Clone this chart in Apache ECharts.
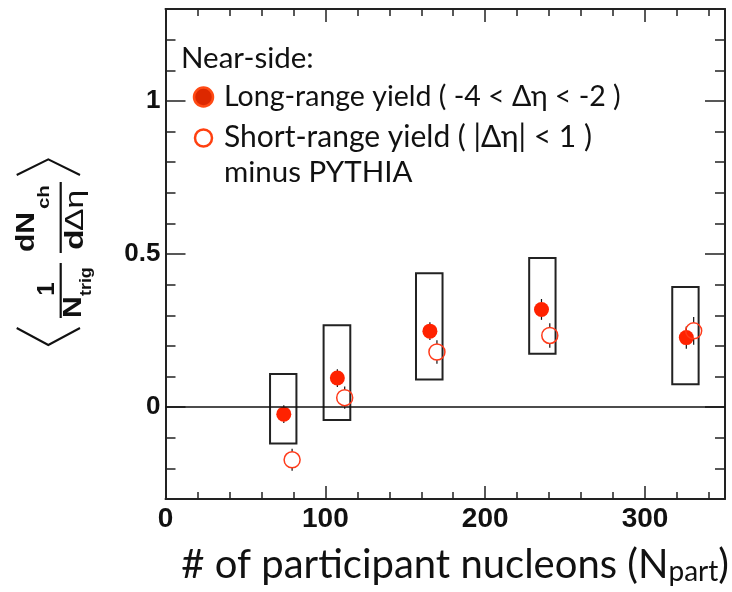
<!DOCTYPE html>
<html>
<head>
<meta charset="utf-8">
<script src="https://cdn.jsdelivr.net/npm/echarts@6/dist/echarts.min.js"></script>
<style>
html,body{margin:0;padding:0;background:#fff;}
#chart{width:732px;height:592px;}
</style>
</head>
<body>
<div id="chart"></div>
<script>
// ---- data ----
const nPartLong = [74.0, 107.5, 165.4, 235.2, 325.8];
const yieldLong = [-0.023, 0.095, 0.248, 0.319, 0.227];
const errLong = [0.029, 0.029, 0.029, 0.034, 0.036];

const nPartShort = [79.2, 112.1, 169.8, 240.4, 330.4];
const yieldShort = [-0.172, 0.031, 0.180, 0.234, 0.249];
const errShort = [0.036, 0.036, 0.038, 0.040, 0.045];

const sysLeft = [65.4, 98.9, 156.7, 227.5, 317.0];
const sysRight = [81.9, 115.6, 173.3, 244.0, 333.5];
const sysLow = [-0.119, -0.042, 0.090, 0.174, 0.075];
const sysHigh = [0.108, 0.267, 0.437, 0.487, 0.392];

const xTickLabels = [0, 100, 200, 300];
const yTickLabels = [0, 0.5, 1];
const xRange = [0, 350];
const yRange = [-0.3, 1.3];

const legendHeader = 'Near-side:';
const seriesNames = ['Long-range yield ( -4 < \u0394\u03b7 < -2 )', 'Short-range yield ( |\u0394\u03b7| < 1 )'];
const legendExtra = 'minus PYTHIA';
const xTitle = '# of participant nucleons (N';
const xTitleSub = 'part';

// ---- minor tick positions (axis decoration) ----
const xMinor = [];
for (let v = 20; v < 350; v += 20) { if (v % 100 !== 0) xMinor.push(v); }
const yMinor = [];
for (let k = -2; k <= 12; k++) { if (k % 5 !== 0) yMinor.push(k / 10); }

const frameColor = '#222';
const labelFamily = '"Liberation Sans", Arial, sans-serif';
const gillFamily = 'Lato, "Noto Sans", sans-serif';

function xAxisDef(pos, values, len, showLine, showLabel) {
  return {
    type: 'value', position: pos, min: xRange[0], max: xRange[1],
    splitLine: { show: false },
    axisLine: { show: showLine, onZero: false, lineStyle: { color: frameColor, width: 2 } },
    axisTick: { show: true, inside: true, length: len, customValues: values, lineStyle: { color: frameColor, width: 1.5 } },
    axisLabel: showLabel ? { show: true, customValues: xTickLabels, margin: 6, color: '#111',
      fontFamily: labelFamily, fontWeight: 'bold', fontSize: 28 } : { show: false }
  };
}
function yAxisDef(pos, values, len, showLine, showLabel) {
  return {
    type: 'value', position: pos, min: yRange[0], max: yRange[1],
    splitLine: { show: false },
    axisLine: { show: showLine, onZero: false, lineStyle: { color: frameColor, width: 2 } },
    axisTick: { show: true, inside: true, length: len, customValues: values, lineStyle: { color: frameColor, width: 1.5 } },
    axisLabel: showLabel ? { show: true, customValues: yTickLabels, margin: 5, color: '#111',
      fontFamily: labelFamily, fontWeight: 'bold', fontSize: 26 } : { show: false }
  };
}

const longData = nPartLong.map((x, i) => [x, yieldLong[i]]);
const shortData = nPartShort.map((x, i) => [x, yieldShort[i]]);
const longErrData = nPartLong.map((x, i) => [x, yieldLong[i], errLong[i]]);
const shortErrData = nPartShort.map((x, i) => [x, yieldShort[i], errShort[i]]);
const sysData = sysLeft.map((l, i) => [l, sysRight[i], sysLow[i], sysHigh[i]]);

function errRenderer(gap) {
  return function (params, api) {
    const x = api.value(0), y = api.value(1), e = api.value(2);
    const c = api.coord([x, y]);
    const hi = api.coord([x, y + e]);
    const lo = api.coord([x, y - e]);
    const st = { stroke: '#111', lineWidth: 1.2 };
    const ch = [];
    if (c[1] - gap > hi[1]) ch.push({ type: 'line', shape: { x1: c[0], y1: hi[1], x2: c[0], y2: c[1] - gap }, style: st });
    if (c[1] + gap < lo[1]) ch.push({ type: 'line', shape: { x1: c[0], y1: c[1] + gap, x2: c[0], y2: lo[1] }, style: st });
    return { type: 'group', children: ch };
  };
}

// rotated y-title pieces: (along, across) measured from an anchor; along runs upward on screen
const TX = 50, TY = 252;
function rtx(text, along, across, size, weight, scaleX, align) {
  return {
    type: 'text', x: TX + across, y: TY - along, rotation: Math.PI / 2, scaleX: scaleX, scaleY: 1,
    style: {
      text: text, font: weight + ' ' + size + 'px ' + labelFamily,
      fill: '#111', textAlign: align || 'left', textVerticalAlign: 'middle'
    }
  };
}
function rbar(a1, a2, across) {
  return { type: 'line', shape: { x1: TX + across, y1: TY - a1, x2: TX + across, y2: TY - a2 }, style: { stroke: '#111', lineWidth: 2.2 } };
}

const chart = echarts.init(document.getElementById('chart'), null, { renderer: 'canvas' });

const titleParts = [
  rtx('dN', 0, -22.5, 25, 'bold', 1.2),
  rtx('ch', 43, -6, 17, 'bold', 1.2),
  rbar(-1, 70, 10.7),
  rtx('d', 2, 26, 25, 'bold', 1.35),
  rtx('\u0394\u03b7', 21, 26, 25, 'normal', 1.35),
  rtx('1', -37, -2.5, 24, 'bold', 1, 'center'),
  rbar(-66, -11, 10.7),
  rtx('N', -66, 24, 25, 'bold', 1.2),
  rtx('trig', -44, 36.5, 17, 'bold', 1.05),
  { type: 'polyline', shape: { points: [[16.7, 175], [48.3, 159.3], [80, 175]] }, style: { fill: 'none', stroke: '#111', lineWidth: 2 } },
  { type: 'polyline', shape: { points: [[16.7, 328], [48.3, 345], [80, 328]] }, style: { fill: 'none', stroke: '#111', lineWidth: 2 } }
];

const option = {
  animation: false,
  backgroundColor: '#fff',
  grid: { left: 165.5, right: 7, top: 9, bottom: 93, containLabel: false },
  xAxis: [
    xAxisDef('bottom', xTickLabels, 13, true, true),
    xAxisDef('bottom', xMinor, 7, false, false),
    xAxisDef('top', xTickLabels, 13, true, false),
    xAxisDef('top', xMinor, 7, false, false)
  ],
  yAxis: [
    yAxisDef('left', yTickLabels, 20, true, true),
    yAxisDef('left', yMinor, 10, false, false),
    yAxisDef('right', yTickLabels, 20, true, false),
    yAxisDef('right', yMinor, 10, false, false)
  ],
  series: [
    {
      type: 'custom', name: 'sys', xAxisIndex: 0, yAxisIndex: 0, z: 2,
      data: sysData,
      encode: { x: [0, 1], y: [2, 3] },
      renderItem: function (params, api) {
        const p1 = api.coord([api.value(0), api.value(3)]);
        const p2 = api.coord([api.value(1), api.value(2)]);
        return { type: 'rect', shape: { x: p1[0], y: p1[1], width: p2[0] - p1[0], height: p2[1] - p1[1] },
          style: { fill: 'none', stroke: '#222', lineWidth: 2 } };
      },
      markLine: {
        silent: true, symbol: ['none', 'none'], label: { show: false },
        lineStyle: { color: '#111', width: 1.5, type: 'solid' },
        emphasis: { disabled: true },
        data: [{ yAxis: 0 }]
      }
    },
    { type: 'custom', name: 'errLong', z: 3, data: longErrData, encode: { x: 0, y: 1 }, renderItem: errRenderer(7) },
    { type: 'custom', name: 'errShort', z: 3, data: shortErrData, encode: { x: 0, y: 1 }, renderItem: errRenderer(8) },
    {
      type: 'scatter', name: seriesNames[0], z: 4, data: longData, symbol: 'circle', symbolSize: 15,
      itemStyle: { color: '#ff2200', opacity: 1 }
    },
    {
      type: 'scatter', name: seriesNames[1], z: 5, data: shortData, symbol: 'circle', symbolSize: 16,
      itemStyle: { color: 'rgba(255,255,255,0)', borderColor: '#ff3a1a', borderWidth: 1.5, opacity: 1 }
    }
  ],
  graphic: [
    // legend
    { type: 'text', x: 181, y: 58, style: { text: legendHeader, font: '29.5px ' + gillFamily, fill: '#111', textAlign: 'left', textVerticalAlign: 'middle' } },
    { type: 'circle', shape: { cx: 203.5, cy: 97, r: 9.5 }, style: { fill: '#dd2800', stroke: '#ff4a14', lineWidth: 2.5 } },
    { type: 'text', x: 224, y: 97, style: { text: seriesNames[0], font: '28.5px ' + gillFamily, fill: '#111', textAlign: 'left', textVerticalAlign: 'middle' } },
    { type: 'circle', shape: { cx: 203.5, cy: 138, r: 8.5 }, style: { fill: 'none', stroke: '#ff4010', lineWidth: 2.5 } },
    { type: 'text', x: 224, y: 137, style: { text: seriesNames[1], font: '30px ' + gillFamily, fill: '#111', textAlign: 'left', textVerticalAlign: 'middle' } },
    { type: 'text', x: 224, y: 172, style: { text: legendExtra, font: '29.5px ' + gillFamily, fill: '#111', textAlign: 'left', textVerticalAlign: 'middle' } },
    // x axis title
    { type: 'text', x: 729, y: 565, style: { text: '{m|' + xTitle + '}{s|' + xTitleSub + '}{m|)}', fill: '#111', textAlign: 'right', textVerticalAlign: 'middle',
        rich: { m: { font: '40px ' + gillFamily, fill: '#111' }, s: { font: '28px ' + gillFamily, fill: '#111', padding: [14, 0, 0, 0] } } } }
  ].concat(titleParts)
};
chart.setOption(option);
</script>
</body>
</html>
